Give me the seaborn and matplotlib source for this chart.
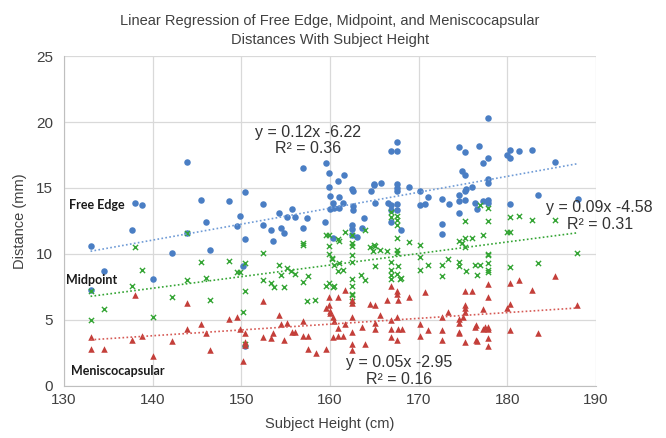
import numpy as np
import pandas as pd
import matplotlib
matplotlib.use("Agg")
import matplotlib.pyplot as plt
import seaborn as sns

# Free Edge distances (mm) vs subject height (cm)
free_h = [133.0, 134.5, 133.0, 137.7, 138.0, 138.8, 140.0, 142.2, 143.9, 143.9,
          145.4, 146.0, 146.5, 148.6, 149.5, 149.8, 150.2, 150.4, 150.4, 150.4,
          152.4, 152.4, 153.3, 153.6, 154.2, 154.5, 154.8, 155.2, 155.7, 156.0,
          156.9, 156.9, 157.4, 159.4, 159.5, 159.9, 159.9, 160.0, 160.0, 160.3,
          160.3, 160.5, 160.9, 161.0, 161.0, 161.5, 161.6, 162.5, 162.5, 162.5,
          162.5, 162.6, 162.6, 162.6, 163.0, 163.6, 163.8, 164.6, 165.0, 165.0,
          165.1, 165.7, 166.5, 166.9, 166.9, 166.9, 166.9, 167.5, 167.5, 167.5,
          167.5, 167.5, 167.6, 167.6, 168.0, 168.9, 170.1, 170.2, 170.7, 171.0,
          172.6, 172.6, 172.6, 173.4, 174.5, 174.5, 174.5, 174.5, 174.9, 175.2,
          175.2, 175.2, 175.2, 175.3, 176.0, 176.4, 176.6, 176.8, 177.2, 177.2,
          177.8, 177.8, 177.8, 177.8, 177.8, 177.8, 180.0, 180.3, 180.3, 180.3,
          181.3, 182.8, 183.5, 185.4, 188.0]
free_d = [10.6, 8.7, 7.3, 11.8, 13.9, 13.7, 8.1, 10.1, 17.0, 11.6,
          14.1, 12.4, 10.3, 14.0, 12.1, 12.9, 9.1, 11.1, 3.0, 14.7,
          13.8, 12.2, 11.8, 11.0, 13.1, 12.0, 11.6, 12.8, 13.4, 12.8,
          16.5, 12.0, 12.7, 12.4, 16.9, 16.1, 15.1, 14.4, 13.4, 13.9,
          11.2, 13.5, 15.5, 14.3, 13.5, 13.9, 16.0, 14.9, 12.2, 11.9,
          11.4, 14.8, 13.6, 13.3, 11.3, 12.0, 12.7, 14.8, 15.2, 15.3,
          13.9, 15.4, 13.9, 17.8, 13.7, 13.3, 12.4, 18.5, 17.8, 15.3,
          15.0, 14.8, 13.8, 13.3, 11.8, 15.1, 13.7, 14.8, 13.8, 14.3,
          14.2, 12.3, 11.5, 13.8, 18.1, 14.5, 14.0, 13.1, 16.3, 17.7,
          16.0, 14.8, 14.1, 14.9, 15.1, 13.9, 13.4, 18.2, 16.9, 14.0,
          20.3, 17.3, 15.7, 15.4, 14.1, 13.9, 17.5, 17.9, 17.3, 13.8,
          17.8, 17.9, 14.5, 17.0, 14.2]

# Midpoint distances
mid_h = [133.0, 133.0, 134.5, 137.7, 138.0, 138.8, 140.0, 142.2, 143.9, 143.9,
         145.4, 146.0, 146.5, 148.6, 149.5, 149.9, 150.2, 150.4, 150.4, 150.4,
         152.4, 152.4, 153.3, 153.7, 154.2, 154.5, 154.8, 155.2, 155.6, 156.0,
         156.9, 156.9, 157.0, 157.4, 157.5, 158.3, 159.5, 159.6, 159.9, 159.9,
         159.9, 159.9, 160.2, 160.2, 160.3, 160.4, 160.5, 160.9, 160.9, 161.0,
         161.0, 161.5, 161.7, 162.5, 162.5, 162.5, 162.5, 162.5, 162.5, 162.5,
         162.5, 162.5, 162.5, 163.5, 163.9, 163.9, 164.5, 164.8, 165.0, 165.1,
         165.1, 165.6, 166.4, 166.9, 166.9, 166.9, 166.9, 166.9, 166.9, 167.5,
         167.5, 167.5, 167.5, 167.5, 167.5, 167.5, 167.7, 167.9, 168.0, 168.9,
         170.1, 170.1, 170.1, 171.0, 172.6, 172.6, 173.3, 174.5, 174.5, 174.5,
         174.9, 175.2, 175.2, 175.2, 175.3, 176.0, 176.4, 176.6, 176.9, 176.9,
         177.2, 177.8, 177.8, 177.8, 177.8, 177.8, 177.8, 177.8, 180.0, 180.3,
         180.3, 180.3, 181.3, 182.8, 183.5, 185.4, 187.9]
mid_d = [7.2, 5.0, 5.8, 7.6, 10.5, 8.8, 5.2, 6.7, 11.6, 8.0,
         9.4, 8.2, 6.5, 9.5, 8.6, 8.6, 5.6, 9.3, 7.2, 3.2,
         10.1, 8.0, 7.8, 7.5, 9.2, 8.4, 7.5, 8.9, 8.7, 8.5,
         10.8, 7.9, 10.7, 6.4, 8.3, 6.5, 7.6, 11.4, 11.4, 10.6,
         10.0, 7.8, 9.7, 9.6, 7.5, 7.6, 9.2, 11.1, 8.7, 11.0,
         9.3, 8.8, 11.7, 11.4, 10.8, 10.6, 9.9, 9.4, 8.1, 7.6,
         7.0, 6.4, 6.9, 8.4, 11.8, 8.0, 10.5, 10.2, 10.7, 10.6,
         9.1, 10.3, 10.2, 13.2, 12.8, 9.4, 8.8, 8.1, 8.4, 12.9,
         12.6, 12.2, 11.2, 10.3, 10.1, 8.5, 9.1, 8.1, 8.2, 10.9,
         10.7, 9.8, 8.8, 9.2, 9.2, 8.3, 9.6, 11.0, 9.4, 9.1,
         10.8, 12.5, 11.2, 10.5, 8.7, 11.2, 9.2, 8.4, 13.7, 9.2,
         11.4, 13.5, 12.5, 10.0, 9.9, 9.3, 8.8, 8.6, 11.7, 11.7,
         12.8, 9.0, 12.9, 12.6, 9.3, 12.6, 10.1]

# Meniscocapsular distances
men_h = [133.0, 133.0, 134.5, 137.7, 138.0, 138.8, 140.0, 142.2, 143.9, 143.9,
         145.4, 146.0, 146.5, 148.6, 149.5, 149.8, 150.2, 150.4, 150.4, 150.4,
         152.4, 152.4, 153.3, 153.6, 154.2, 154.5, 154.8, 155.2, 155.7, 156.0,
         157.0, 157.0, 157.5, 157.5, 158.4, 159.5, 159.6, 159.9, 159.9, 160.0,
         160.0, 160.3, 160.3, 160.5, 160.9, 160.9, 160.9, 161.5, 161.7, 161.7,
         162.5, 162.5, 162.5, 162.5, 162.5, 162.5, 163.6, 163.9, 164.5, 165.1,
         165.1, 165.1, 165.6, 166.4, 166.9, 166.9, 166.9, 166.9, 167.5, 167.5,
         167.5, 167.5, 167.7, 167.7, 168.1, 168.9, 170.1, 170.1, 170.7, 171.0,
         172.6, 172.6, 172.6, 173.3, 174.5, 174.5, 174.5, 174.5, 175.0, 175.2,
         175.2, 175.2, 175.2, 175.2, 176.0, 176.4, 176.5, 176.5, 176.6, 177.2,
         177.2, 177.5, 177.8, 177.8, 177.8, 177.8, 177.8, 177.8, 180.0, 180.3,
         180.3, 180.3, 181.3, 182.8, 183.5, 185.4, 187.9]
men_d = [3.7, 2.8, 2.8, 3.5, 6.9, 3.8, 2.3, 3.4, 6.3, 4.3,
         4.7, 4.0, 2.7, 5.1, 5.2, 4.3, 1.9, 4.0, 3.3, 3.1,
         6.4, 3.7, 3.6, 4.0, 5.4, 4.7, 3.5, 4.8, 4.1, 4.1,
         4.9, 3.8, 3.8, 2.8, 2.5, 2.8, 5.9, 6.7, 6.1, 5.7,
         5.5, 5.2, 3.7, 4.9, 6.7, 4.4, 3.8, 3.8, 7.3, 4.7,
         6.5, 6.3, 5.2, 4.1, 3.2, 2.7, 4.5, 3.2, 6.2, 6.1,
         4.8, 4.3, 5.4, 6.5, 7.6, 5.0, 4.3, 3.7, 7.2, 7.0,
         5.2, 3.5, 6.5, 4.3, 4.3, 6.7, 4.7, 3.8, 7.1, 4.2,
         5.2, 4.2, 3.5, 5.6, 5.1, 4.8, 4.1, 4.0, 5.2, 7.2,
         6.1, 5.9, 5.6, 3.3, 7.2, 4.5, 4.6, 3.5, 3.4, 5.8,
         4.3, 4.5, 7.7, 6.7, 4.5, 4.3, 3.6, 3.0, 5.9, 7.8,
         6.2, 4.2, 8.0, 7.3, 4.0, 8.3, 6.1]

free_df = pd.DataFrame({"height": free_h, "distance": free_d})
mid_df = pd.DataFrame({"height": mid_h, "distance": mid_d})
men_df = pd.DataFrame({"height": men_h, "distance": men_d})

blue = "#4a7ec4"
green = "#35a535"
red = "#c43f3a"

sns.set_style("white")
plt.rcParams["font.family"] = ["Liberation Sans", "DejaVu Sans"]

fig, ax = plt.subplots(figsize=(6.66, 4.38), dpi=100)
fig.subplots_adjust(left=0.096, right=0.895, top=0.872, bottom=0.119)

sns.scatterplot(data=free_df, x="height", y="distance", ax=ax, color=blue,
                marker="o", s=22, linewidth=0, zorder=3)
sns.scatterplot(data=mid_df, x="height", y="distance", ax=ax, color=green,
                marker="x", s=14, linewidth=1.0, zorder=3)
sns.scatterplot(data=men_df, x="height", y="distance", ax=ax, color=red,
                marker="^", s=22, linewidth=0, zorder=3)

dotted = (0, (1, 1.4))
sns.regplot(data=free_df, x="height", y="distance", ax=ax, scatter=False, ci=None,
            line_kws=dict(color="#6f9bd6", lw=1.2, ls=dotted, zorder=4))
sns.regplot(data=mid_df, x="height", y="distance", ax=ax, scatter=False, ci=None,
            line_kws=dict(color=green, lw=1.2, ls=dotted, zorder=4))
sns.regplot(data=men_df, x="height", y="distance", ax=ax, scatter=False, ci=None,
            line_kws=dict(color="#d65a55", lw=1.2, ls=dotted, zorder=4))

ax.set_xlim(130, 190)
ax.set_ylim(0, 25)
ax.set_xticks(range(130, 191, 10))
ax.set_yticks(range(0, 26, 5))
ax.grid(True, color="#d9d9d9", lw=0.9)
ax.set_axisbelow(True)
for side in ["top", "right"]:
    ax.spines[side].set_visible(False)
for side in ["left", "bottom"]:
    ax.spines[side].set_color("#bfbfbf")
ax.tick_params(axis="y", length=0, labelsize=11, labelcolor="#404040", pad=8)
ax.tick_params(axis="x", length=0, labelsize=11, labelcolor="#404040", pad=5)

ax.set_xlabel("Subject Height (cm)", fontsize=10.5, color="#404040", labelpad=7)
ax.set_ylabel("Distance (mm)", fontsize=10.5, color="#404040", labelpad=6)
ax.set_title("Linear Regression of Free Edge, Midpoint, and Meniscocapsular\nDistances With Subject Height",
             fontsize=10.5, color="#404040", pad=9, linespacing=1.45)

eq_kw = dict(ha="center", va="center", fontsize=11.5, color="#333333", linespacing=1.15)
ax.text(157.5, 18.6, "y = 0.12x -6.22\nR² = 0.36", **eq_kw)
ax.text(190.4, 12.9, "y = 0.09x -4.58\nR² = 0.31", clip_on=False, **eq_kw)
ax.text(167.8, 1.15, "y = 0.05x -2.95\nR² = 0.16", **eq_kw)

lab_kw = dict(ha="left", va="center", fontsize=9, fontweight="bold", color="#1a1a1a",
              family=["Lato", "DejaVu Sans"])
ax.text(130.6, 13.7, "Free Edge", **lab_kw)
ax.text(130.2, 8.0, "Midpoint", **lab_kw)
ax.text(130.8, 1.1, "Meniscocapsular", **lab_kw)

fig.savefig("out.png", dpi=100)
